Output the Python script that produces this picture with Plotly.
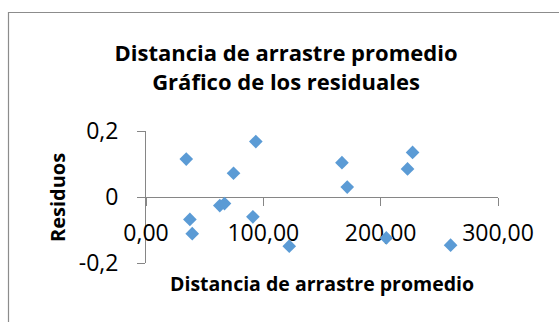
import plotly.graph_objects as go

# Residuals of the average drag distance regression
distancia = [34.3, 37.4, 39.4, 62.9, 66.9, 74.6, 91.1, 93.6, 122.1,
             167.0, 171.5, 204.8, 222.9, 227.2, 259.6]
residuos = [0.115, -0.068, -0.111, -0.026, -0.020, 0.072, -0.060, 0.168, -0.149,
            0.104, 0.030, -0.124, 0.085, 0.135, -0.146]

x_ticks = [0, 100, 200, 300]
x_labels = ["0,00", "100,00", "200,00", "300,00"]
y_ticks = [-0.2, 0, 0.2]
y_labels = ["-0,2", "0", "0,2"]

W, H = 559, 322
L, R, T, B = 146, 61, 131, 59
pw, ph = W - L - R, H - T - B


def px_x(p):
    return (p - L) / pw


def px_y(p):
    return (H - B - p) / ph


FONT = "Open Sans"
AXIS_GREY = "#868686"

fig = go.Figure()
fig.add_trace(go.Scatter(
    x=distancia, y=residuos, mode="markers",
    marker=dict(symbol="diamond", size=10.5, color="#5B9BD5", line=dict(width=0)),
    showlegend=False, cliponaxis=False,
))

fig.update_layout(
    width=W, height=H,
    margin=dict(l=L, r=R, t=T, b=B, pad=0),
    paper_bgcolor="white", plot_bgcolor="white",
    font=dict(family=FONT, color="black"),
    title=dict(
        text="<b>Distancia de arrastre promedio<br>Gráfico de los residuales</b>",
        x=286 / W, xref="container", xanchor="center",
        y=1 - 61 / H, yref="container", yanchor="middle",
        font=dict(family=FONT, size=22, color="black"),
    ),
    xaxis=dict(
        range=[0, 300], tickvals=x_ticks, ticktext=x_labels,
        anchor="free", position=0.5, layer="below traces",
        showline=True, linecolor=AXIS_GREY, linewidth=1,
        ticks="outside", ticklen=8, tickcolor=AXIS_GREY, tickwidth=1,
        ticklabelstandoff=7,
        showgrid=False, zeroline=False,
        tickfont=dict(family=FONT, size=23, color="black"),
    ),
    yaxis=dict(
        range=[-0.2, 0.2], tickvals=y_ticks, ticktext=y_labels,
        layer="below traces",
        showline=True, linecolor=AXIS_GREY, linewidth=1,
        ticks="outside", ticklen=8, tickcolor=AXIS_GREY, tickwidth=1,
        ticklabelstandoff=14,
        showgrid=False, zeroline=False,
        tickfont=dict(family=FONT, size=23, color="black"),
    ),
    annotations=[
        dict(text="<b>Distancia de arrastre promedio</b>", xref="paper", yref="paper",
             x=px_x(322), y=px_y(283), xanchor="center", yanchor="middle",
             showarrow=False, font=dict(family=FONT, size=19.5, color="black")),
        dict(text="<b>Residuos</b>", xref="paper", yref="paper",
             x=px_x(57), y=px_y(197), xanchor="center", yanchor="middle",
             textangle=-90, showarrow=False,
             font=dict(family=FONT, size=20, color="black")),
    ],
    shapes=[
        dict(type="rect", xref="paper", yref="paper",
             x0=px_x(8.5), x1=px_x(W + 20), y0=px_y(H + 20), y1=px_y(12.5),
             line=dict(color="#8c8c8c", width=1.2), fillcolor="rgba(0,0,0,0)",
             layer="below"),
    ],
)

fig.write_html("out.html")
